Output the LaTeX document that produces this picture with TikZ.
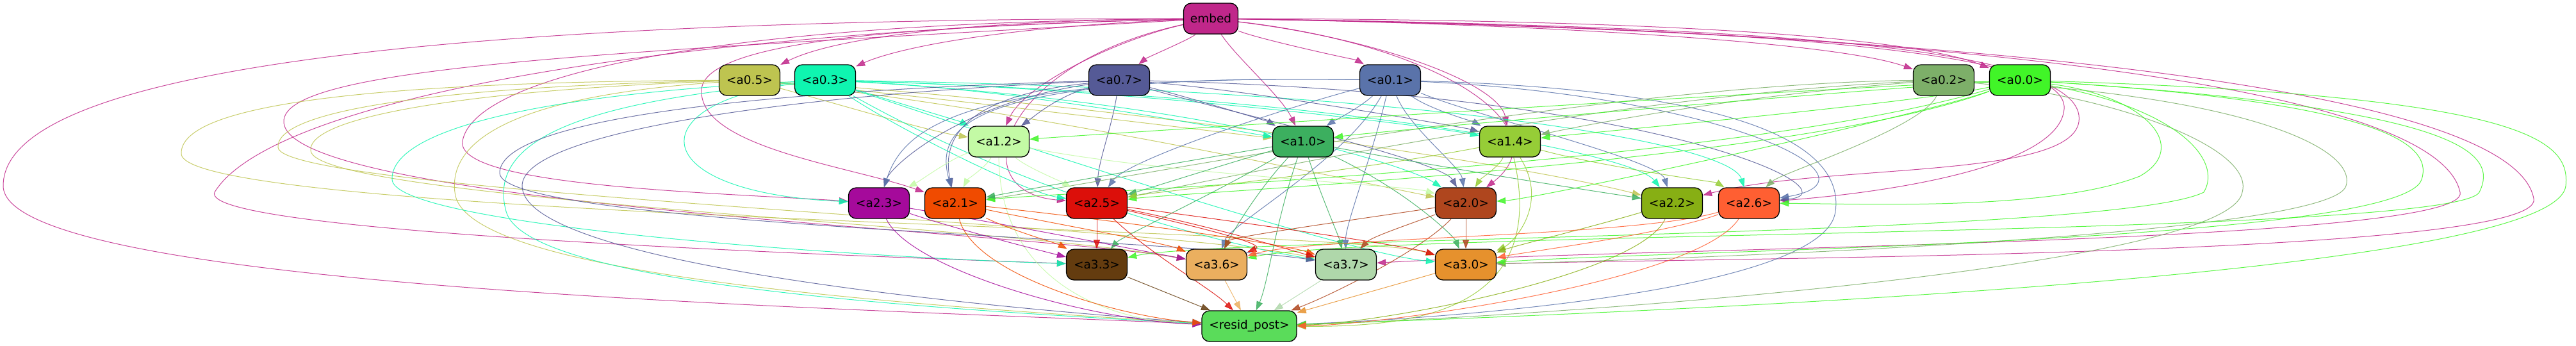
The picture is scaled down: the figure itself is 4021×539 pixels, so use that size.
\documentclass[tikz,border=0pt]{standalone}
\usepackage{fontspec}
\setmainfont{DejaVu Sans}
\usetikzlibrary{arrows.meta}

\pgfdeclarelayer{edges}
\pgfsetlayers{edges,main}

\definecolor{cembed}{HTML}{C0278A}
\definecolor{c05}{HTML}{BEC450}
\definecolor{c03}{HTML}{0FF5B0}
\definecolor{c07}{HTML}{555A96}
\definecolor{c01}{HTML}{5A73AA}
\definecolor{c02}{HTML}{7DAF69}
\definecolor{c00}{HTML}{41F528}
\definecolor{c12}{HTML}{C3FAA5}
\definecolor{c10}{HTML}{3CAF5F}
\definecolor{c14}{HTML}{96CD37}
\definecolor{c23}{HTML}{A50A9B}
\definecolor{c21}{HTML}{F04B00}
\definecolor{c25}{HTML}{DC0F0A}
\definecolor{c20}{HTML}{AF461E}
\definecolor{c22}{HTML}{87AF14}
\definecolor{c26}{HTML}{FF5F32}
\definecolor{c33}{HTML}{643C0F}
\definecolor{c36}{HTML}{EBAF5F}
\definecolor{c37}{HTML}{AFD7AA}
\definecolor{c30}{HTML}{E6912D}
\definecolor{cres}{HTML}{5ADC5A}

\begin{document}
\begin{tikzpicture}[x=1pt, y=-1pt,
    blk/.style={draw=black, line width=1.3pt, rounded corners=12pt, minimum width=95pt,
      minimum height=48pt, inner xsep=10pt, font=\fontsize{18.5}{20}\selectfont},
    ed/.style={-{Triangle[length=14pt,width=10pt]}, line width=1pt, opacity=0.85}]

    \useasboundingbox (0,0) rectangle (4021,539);

    % layer 0
    \node[blk, fill=cembed, minimum width=85pt] (embed) at (1890,29) {embed};
    \node[blk, fill=c05] (a05) at (1170,125) {<a0.5>};
    \node[blk, fill=c03] (a03) at (1288,125) {<a0.3>};
    \node[blk, fill=c07] (a07) at (1747,125) {<a0.7>};
    \node[blk, fill=c01] (a01) at (2170,125) {<a0.1>};
    \node[blk, fill=c02] (a02) at (3034,125) {<a0.2>};
    \node[blk, fill=c00] (a00) at (3153,125) {<a0.0>};
    % layer 1
    \node[blk, fill=c12] (a12) at (1559,221) {<a1.2>};
    \node[blk, fill=c10] (a10) at (2034,221) {<a1.0>};
    \node[blk, fill=c14] (a14) at (2357,221) {<a1.4>};
    % layer 2
    \node[blk, fill=c23] (a23) at (1372,317) {<a2.3>};
    \node[blk, fill=c21] (a21) at (1491,317) {<a2.1>};
    \node[blk, fill=c25] (a25) at (1712,317) {<a2.5>};
    \node[blk, fill=c20] (a20) at (2288,317) {<a2.0>};
    \node[blk, fill=c22] (a22) at (2610,317) {<a2.2>};
    \node[blk, fill=c26] (a26) at (2730,317) {<a2.6>};
    % layer 3
    \node[blk, fill=c33] (a33) at (1712,413) {<a3.3>};
    \node[blk, fill=c36] (a36) at (1899,413) {<a3.6>};
    \node[blk, fill=c37] (a37) at (2101,413) {<a3.7>};
    \node[blk, fill=c30] (a30) at (2288,413) {<a3.0>};
    \node[blk, fill=cres, minimum width=148pt] (resid) at (1950,509) {<resid\_post>};

    \begin{pgfonlayer}{edges}
    % embed
    \foreach \t/\ax/\ay/\bx/\by in {a05/1500/32/1300/60, a03/1560/42/1400/75, a07/1860/60/1790/90,
        a01/1960/60/2120/95, a02/2300/35/2850/60, a00/2400/30/2950/45, a12/1750/60/1600/130,
        a10/1930/90/2000/150, a14/2150/60/2340/130, a20/2250/70/2440/200, a25/1560/100/1500/300}
        \draw[ed, cembed] (embed) .. controls (\ax,\ay) and (\bx,\by) .. (\t);
    \draw[ed, cembed] (embed) .. controls (1100,35) and (740,120) .. (722,220) .. controls (710,290) and (1100,300) .. (a23);
    \draw[ed, cembed] (embed) .. controls (1450,40) and (1100,60) .. (1095,140) .. controls (1090,230) and (1330,260) .. (a21);
    \draw[ed, cembed] (embed) .. controls (1000,50) and (420,160) .. (335,300) .. controls (310,360) and (1200,395) .. (a33);
    \draw[ed, cembed] (embed) .. controls (1000,80) and (440,100) .. (443,190) .. controls (445,320) and (1600,360) .. (a36);
    \draw[ed, cembed] (embed) .. controls (2800,45) and (3260,80) .. (3245,190) .. controls (3232,280) and (2850,255) .. (a22);
    \draw[ed, cembed] (embed) .. controls (2700,40) and (3230,70) .. (3222,170) .. controls (3215,260) and (2950,300) .. (a26);
    \draw[ed, cembed] (embed) .. controls (2800,40) and (3800,110) .. (3840,300) .. controls (3860,380) and (2600,385) .. (a37);
    \draw[ed, cembed] (embed) .. controls (2900,45) and (3920,120) .. (3955,310) .. controls (3975,400) and (2700,402) .. (a30);
    \draw[ed, cembed] (embed) .. controls (600,30) and (5,120) .. (5,290) .. controls (5,450) and (1300,480) .. (resid);

    % a0.5
    \foreach \t/\ax/\ay/\bx/\by in {a12/1300/160/1450/205, a10/1450/150/1850/200,
        a20/1600/170/2100/280, a22/1700/160/2350/250}
        \draw[ed, c05] (a05) .. controls (\ax,\ay) and (\bx,\by) .. (\t);
    \draw[ed, c05] (a05) .. controls (600,128) and (280,160) .. (283,240) .. controls (286,340) and (2100,355) .. (a30);
    \draw[ed, c05] (a05) .. controls (700,135) and (430,170) .. (434,230) .. controls (438,300) and (1800,350) .. (a37);
    \draw[ed, c05] (a05) .. controls (750,140) and (480,180) .. (485,235) .. controls (490,310) and (1550,350) .. (a36);
    \draw[ed, c05] (a05) .. controls (800,150) and (700,220) .. (710,300) .. controls (720,420) and (1300,470) .. (resid);

    % a0.3
    \foreach \t/\ax/\ay/\bx/\by in {a12/1400/160/1500/190, a10/1600/140/1900/200, a14/1800/140/2250/200,
        a25/1400/200/1600/300, a20/1900/160/2200/260, a22/2100/150/2550/240, a26/2200/140/2700/220,
        a37/1600/300/1900/380, a30/1900/330/2150/400, a23/1000/160/1000/300}
        \draw[ed, c03] (a03) .. controls (\ax,\ay) and (\bx,\by) .. (\t);
    \draw[ed, c03] (a03) .. controls (800,150) and (610,210) .. (612,280) .. controls (614,350) and (1300,400) .. (a33);
    \draw[ed, c03] (a03) .. controls (900,160) and (760,220) .. (790,330) .. controls (820,440) and (1400,480) .. (resid);

    % a0.7
    \foreach \t/\ax/\ay/\bx/\by in {a12/1650/150/1610/185, a10/1850/150/1980/190, a14/1950/140/2290/200,
        a23/1500/160/1390/260, a21/1500/150/1470/220, a25/1735/200/1715/250,
        a20/1900/170/2250/250, a26/2600/145/2900/300}
        \draw[ed, c07] (a07) .. controls (\ax,\ay) and (\bx,\by) .. (\t);
    \draw[ed, c07] (a07) .. controls (1100,145) and (780,195) .. (780,270) .. controls (780,350) and (1800,370) .. (a37);
    \draw[ed, c07] (a07) .. controls (1200,150) and (815,210) .. (815,290) .. controls (815,400) and (1400,470) .. (resid);

    % a0.1
    \foreach \t/\ax/\ay/\bx/\by in {a10/2120/170/2080/190, a14/2230/170/2300/190, a23/1500/115/1410/200,
        a21/1500/115/1460/200, a25/2000/170/1760/250, a20/2200/200/2280/260, a22/2300/180/2590/250,
        a36/2100/250/1920/350, a37/2140/250/2100/350, a26/2700/150/2950/280}
        \draw[ed, c01] (a01) .. controls (\ax,\ay) and (\bx,\by) .. (\t);
    \draw[ed, c01] (a01) .. controls (2700,140) and (2880,220) .. (2865,330) .. controls (2850,450) and (2300,495) .. (resid);

    % a0.2
    \foreach \t/\ax/\ay/\bx/\by in {a14/2700/150/2450/200, a25/2500/150/1900/280,
        a21/2500/130/1700/290, a26/3000/200/2780/270}
        \draw[ed, c02] (a02) .. controls (\ax,\ay) and (\bx,\by) .. (\t);
    \draw[ed, c02] (a02) .. controls (3500,150) and (3680,230) .. (3662,290) .. controls (3640,370) and (2600,405) .. (a30);
    \draw[ed, c02] (a02) .. controls (3300,150) and (3520,230) .. (3500,300) .. controls (3480,420) and (2400,495) .. (resid);

    % a0.0
    \foreach \t/\ax/\ay/\bx/\by in {a12/2800/140/1700/210, a10/2900/140/2150/205, a14/3000/160/2450/210,
        a21/2700/260/1650/300, a25/2800/255/1850/300, a20/3000/180/2400/310}
        \draw[ed, c00] (a00) .. controls (\ax,\ay) and (\bx,\by) .. (\t);
    \draw[ed, c00] (a00) .. controls (3350,150) and (3420,230) .. (3340,275) .. controls (3200,330) and (2900,318) .. (a26);
    \draw[ed, c00] (a00) .. controls (3700,160) and (3800,220) .. (3780,280) .. controls (3750,380) and (2600,390) .. (a30);
    \draw[ed, c00] (a00) .. controls (3850,170) and (3900,240) .. (3870,300) .. controls (3830,370) and (2150,360) .. (a36);
    \draw[ed, c00] (a00) .. controls (3400,170) and (3470,250) .. (3440,300) .. controls (3300,370) and (1900,370) .. (a33);
    \draw[ed, c00] (a00) .. controls (3950,150) and (4012,220) .. (4005,290) .. controls (3990,420) and (2800,480) .. (resid);

    % layer 1 sources
    \foreach \t/\ax/\ay/\bx/\by in {a23/1480/250/1440/280, a21/1540/260/1510/280, a25/1600/260/1660/285,
        a20/1800/270/2200/290, resid/1560/420/1700/500}
        \draw[ed, c12] (a12) .. controls (\ax,\ay) and (\bx,\by) .. (\t);
    \foreach \t/\ax/\ay/\bx/\by in {a21/1800/260/1580/300, a25/1900/260/1790/295, a22/2300/270/2500/300,
        a33/1900/300/1750/370, a36/1960/300/1920/370, a37/2060/300/2090/370,
        a30/2200/300/2270/370, resid/1990/350/1980/440}
        \draw[ed, c10] (a10) .. controls (\ax,\ay) and (\bx,\by) .. (\t);
    \foreach \t/\ax/\ay/\bx/\by in {a25/2100/270/1800/300, a20/2340/260/2310/280, a26/2500/260/2680/285,
        a30/2420/320/2360/380, resid/2420/490/2200/510}
        \draw[ed, c14] (a14) .. controls (\ax,\ay) and (\bx,\by) .. (\t);

    % layer 2 sources
    \foreach \t/\ax/\ay/\bx/\by in {a33/1500/360/1640/395, a36/1600/355/1800/395, resid/1420/420/1700/500}
        \draw[ed, c23] (a23) .. controls (\ax,\ay) and (\bx,\by) .. (\t);
    \foreach \t/\ax/\ay/\bx/\by in {a33/1580/360/1650/380, a36/1650/350/1820/380,
        a37/1750/345/2000/380, resid/1520/430/1750/495}
        \draw[ed, c21] (a21) .. controls (\ax,\ay) and (\bx,\by) .. (\t);
    \foreach \t/\ax/\ay/\bx/\by in {a33/1712/355/1712/375, a36/1850/350/1980/380, a37/1900/355/2030/395,
        a30/2000/355/2200/385, resid/1800/400/1890/450}
        \draw[ed, c25] (a25) .. controls (\ax,\ay) and (\bx,\by) .. (\t);
    \foreach \t/\ax/\ay/\bx/\by in {a37/2200/350/2140/370, a30/2288/355/2288/370,
        a36/2100/345/1920/370, resid/2220/390/2080/460}
        \draw[ed, c20] (a20) .. controls (\ax,\ay) and (\bx,\by) .. (\t);
    \foreach \t/\ax/\ay/\bx/\by in {a30/2500/350/2360/385, resid/2560/430/2150/505}
        \draw[ed, c22] (a22) .. controls (\ax,\ay) and (\bx,\by) .. (\t);
    \foreach \t/\ax/\ay/\bx/\by in {a30/2600/365/2370/395, resid/2650/440/2150/508, a36/2550/370/2050/370}
        \draw[ed, c26] (a26) .. controls (\ax,\ay) and (\bx,\by) .. (\t);

    % layer 3 to output
    \draw[ed, c33] (a33) -- (resid);
    \draw[ed, c36] (a36) -- (resid);
    \draw[ed, c37] (a37) -- (resid);
    \draw[ed, c30] (a30) -- (resid);
    \end{pgfonlayer}

\end{tikzpicture}
\end{document}
